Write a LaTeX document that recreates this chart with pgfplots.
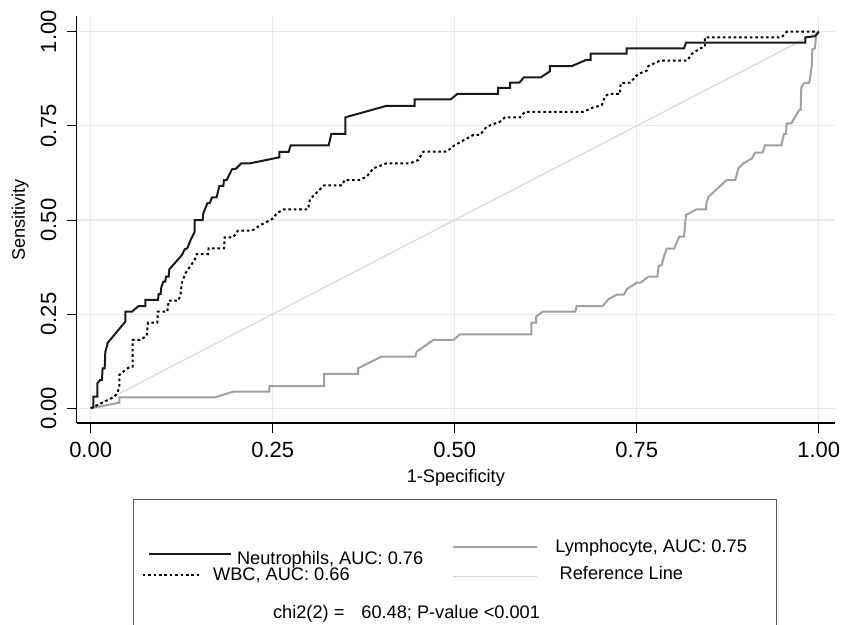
\documentclass[border=0pt]{standalone}
\usepackage{pgfplots}
\pgfplotsset{compat=1.18}
\usepackage{fontspec}
\setmainfont{Liberation Sans}
\definecolor{gridgray}{RGB}{234,234,234}
\definecolor{refgray}{RGB}{212,212,212}
\definecolor{lymgray}{RGB}{160,160,160}
\definecolor{boxgray}{RGB}{90,90,90}
\definecolor{neutblack}{RGB}{25,25,25}
\newcommand\fs{\fontsize{9.1}{11}\selectfont}
\begin{document}
\begin{tikzpicture}
\begin{axis}[
  at={(0,0)}, anchor=south west,
  scale only axis, width=379.15pt, height=203.5pt,
  xmin=-0.0192, xmax=1.0224, ymin=-0.039, ymax=1.0417,
  axis lines*=left,
  every non boxed x axis/.append style={x axis line style={-}},
  every non boxed y axis/.append style={y axis line style={-}},
  axis line style={-, black, line width=0.6pt},
  xtick={0,0.25,0.5,0.75,1}, ytick={0,0.25,0.5,0.75,1},
  tick align=outside, major tick length=5pt,
  tick style={black, line width=0.5pt},
  grid=major, major grid style={gridgray, line width=0.6pt},
  /pgf/number format/assume math mode=true,
  /pgf/number format/fixed,
  /pgf/number format/fixed zerofill,
  /pgf/number format/precision=2,
  tick label style={font=\fontsize{11}{13}\selectfont},
  xticklabel style={anchor=north, inner sep=0pt},
  yticklabel style={rotate=90, anchor=south, inner sep=0pt},
  xticklabel shift=4.3pt,
  yticklabel shift=5pt,
  xlabel={1-Specificity},
  xlabel style={at={(axis description cs:0.5,-0.1467)}, anchor=base, inner sep=0pt, font=\fs},
  ylabel={Sensitivity},
  ylabel style={at={(axis description cs:-0.0682,0.4988)}, anchor=base, inner sep=0pt, font=\fs},
]
% Reference line
\addplot[refgray, line width=0.5pt] coordinates {(0,0) (1,1)};
% Lymphocyte
\addplot[lymgray, line width=1pt] coordinates {
(0,0) (0.0393,0.015) (0.0393,0.0291) (0.1707,0.0291) (0.1959,0.0442) (0.2454,0.0442)
(0.2454,0.0592) (0.3205,0.0592) (0.3205,0.0911) (0.3672,0.0911) (0.3672,0.1061)
(0.3992,0.1371) (0.4459,0.1371) (0.4478,0.1504) (0.4707,0.1814) (0.4981,0.1814)
(0.5073,0.1964) (0.6053,0.1964) (0.6053,0.2274) (0.6117,0.2274) (0.6117,0.2433)
(0.6208,0.2566) (0.6657,0.2566) (0.6675,0.2716) (0.7033,0.2716) (0.711,0.2894)
(0.7225,0.3017) (0.7326,0.3017) (0.7362,0.3159) (0.75,0.3336) (0.7555,0.3336)
(0.766,0.3495) (0.7783,0.3495) (0.7802,0.3779) (0.7843,0.3805) (0.7889,0.4115)
(0.7912,0.4239) (0.8012,0.4239) (0.8086,0.4557) (0.815,0.4557) (0.8177,0.5133)
(0.8324,0.5283) (0.8452,0.5283) (0.8461,0.5487) (0.8489,0.562) (0.8736,0.6062)
(0.8855,0.6062) (0.8896,0.6372) (0.8965,0.6505) (0.9084,0.6637) (0.9125,0.6788)
(0.923,0.6788) (0.9262,0.6983) (0.9487,0.6983) (0.9523,0.7284) (0.9551,0.7284)
(0.956,0.7567) (0.9624,0.7567) (0.9734,0.7921) (0.9752,0.7921) (0.9761,0.8523)
(0.9798,0.8629) (0.9871,0.8647) (0.9904,0.9072) (0.9913,0.9532) (0.9949,0.9558)
(0.9963,0.9886) (1,1)};
% WBC
\addplot[black, line width=1pt, dash pattern=on 1.3pt off 1.4pt] coordinates {
(0,0) (0.0311,0.0291) (0.0366,0.0397) (0.0393,0.0574) (0.0393,0.0884) (0.0476,0.1017)
(0.054,0.1105) (0.0577,0.1105) (0.0577,0.1814) (0.0677,0.1814) (0.0769,0.192)
(0.0787,0.2274) (0.0915,0.2274) (0.0924,0.2566) (0.1053,0.2566) (0.1071,0.2858)
(0.1208,0.2858) (0.1236,0.3053) (0.1254,0.3336) (0.13,0.3584) (0.1364,0.3761)
(0.1428,0.3938) (0.1456,0.4097) (0.1611,0.4097) (0.162,0.4248) (0.1831,0.4248)
(0.184,0.454) (0.1959,0.454) (0.2023,0.4717) (0.2216,0.4717) (0.2326,0.4858)
(0.2509,0.5044) (0.2555,0.5177) (0.2655,0.5283) (0.2985,0.5283) (0.3012,0.555)
(0.3104,0.5726) (0.3205,0.5921) (0.3452,0.5921) (0.3489,0.6062) (0.369,0.6062)
(0.3791,0.6151) (0.3882,0.6372) (0.4065,0.6505) (0.4386,0.6505) (0.45,0.6593)
(0.4569,0.6815) (0.489,0.6815) (0.5004,0.6992) (0.5256,0.7257) (0.5348,0.7257)
(0.5439,0.7478) (0.5622,0.7611) (0.5691,0.7726) (0.5897,0.7726) (0.5966,0.7872)
(0.6767,0.7872) (0.6904,0.7992) (0.7019,0.8045) (0.7065,0.8275) (0.711,0.8346)
(0.727,0.8346) (0.728,0.8629) (0.7408,0.8647) (0.7522,0.8877) (0.7637,0.8965)
(0.766,0.9089) (0.782,0.9231) (0.8195,0.9231) (0.8255,0.9408) (0.837,0.9558)
(0.8438,0.9603) (0.8438,0.985) (0.9491,0.985) (0.956,1.0) (1,1)};
% Neutrophils
\addplot[neutblack, line width=1pt] coordinates {
(0,0) (0.0036,0.003) (0.0036,0.031) (0.0091,0.031) (0.0091,0.066) (0.0128,0.075)
(0.0155,0.075) (0.0164,0.106) (0.0192,0.106) (0.0201,0.150) (0.0228,0.168)
(0.0228,0.1725) (0.0476,0.23) (0.0476,0.2566) (0.0567,0.2566) (0.0659,0.2716)
(0.075,0.2716) (0.075,0.2876) (0.0924,0.2876) (0.0934,0.3035) (0.0961,0.3035)
(0.097,0.3212) (0.0998,0.3363) (0.1025,0.3363) (0.1034,0.3495) (0.1071,0.3495)
(0.108,0.369) (0.1254,0.4071) (0.129,0.4221) (0.1327,0.4248) (0.1373,0.4469)
(0.1428,0.469) (0.1428,0.5) (0.1538,0.5) (0.1547,0.5177) (0.1602,0.5443)
(0.1639,0.546) (0.1666,0.5602) (0.173,0.5602) (0.1767,0.5903) (0.1822,0.5903)
(0.1831,0.6062) (0.1868,0.6062) (0.1941,0.6345) (0.1996,0.6363) (0.2069,0.6505)
(0.2188,0.6505) (0.2591,0.6664) (0.2591,0.6806) (0.2719,0.6806) (0.2747,0.6983)
(0.3269,0.6983) (0.3305,0.7284) (0.3498,0.7284) (0.3498,0.7726) (0.4056,0.8027)
(0.445,0.8027) (0.445,0.8204) (0.4945,0.8204) (0.5036,0.8346) (0.5595,0.8346)
(0.5595,0.8505) (0.576,0.8505) (0.576,0.8647) (0.5888,0.8647) (0.5952,0.8788)
(0.6181,0.8788) (0.6309,0.8948) (0.6309,0.9089) (0.6611,0.9089) (0.6804,0.9249)
(0.6868,0.9249) (0.6868,0.942) (0.7362,0.942) (0.7362,0.9558) (0.815,0.9558)
(0.8177,0.9709) (0.9816,0.9709) (0.9816,0.985) (0.995,0.988) (1,1)};
\end{axis}
\begin{scope}[x=0.5pt, y=-0.5pt, shift={(-76.7,-423)}]
  \draw[boxgray, line width=0.5pt] (133.3,680) -- (133.3,500) -- (776,500) -- (776,680);
  \draw[neutblack, line width=1pt] (149,554) -- (231,554);
  \node[anchor=base west, inner sep=0pt, font=\fs] at (236.7,565) {Neutrophils, AUC: 0.76};
  \draw[black, line width=1pt, dash pattern=on 1.3pt off 1.4pt] (142.7,575) -- (199,575);
  \node[anchor=base west, inner sep=0pt, font=\fs] at (212.7,581) {WBC, AUC: 0.66};
  \draw[lymgray, line width=1pt] (453,546.7) -- (537,546.7);
  \node[anchor=base west, inner sep=0pt, font=\fs] at (555,552.7) {Lymphocyte, AUC: 0.75};
  \draw[refgray, line width=0.5pt] (453,576.7) -- (537,576.7);
  \node[anchor=base west, inner sep=0pt, font=\fs] at (559.3,580) {Reference Line};
  \node[anchor=base west, inner sep=0pt, font=\fs] at (272.7,619) {chi2(2) =\hspace{8.5pt}60.48; P-value <0.001};
  \pgfresetboundingbox
  \path[use as bounding box] (0,0) rectangle (856,625);
\end{scope}
\end{tikzpicture}
\end{document}
